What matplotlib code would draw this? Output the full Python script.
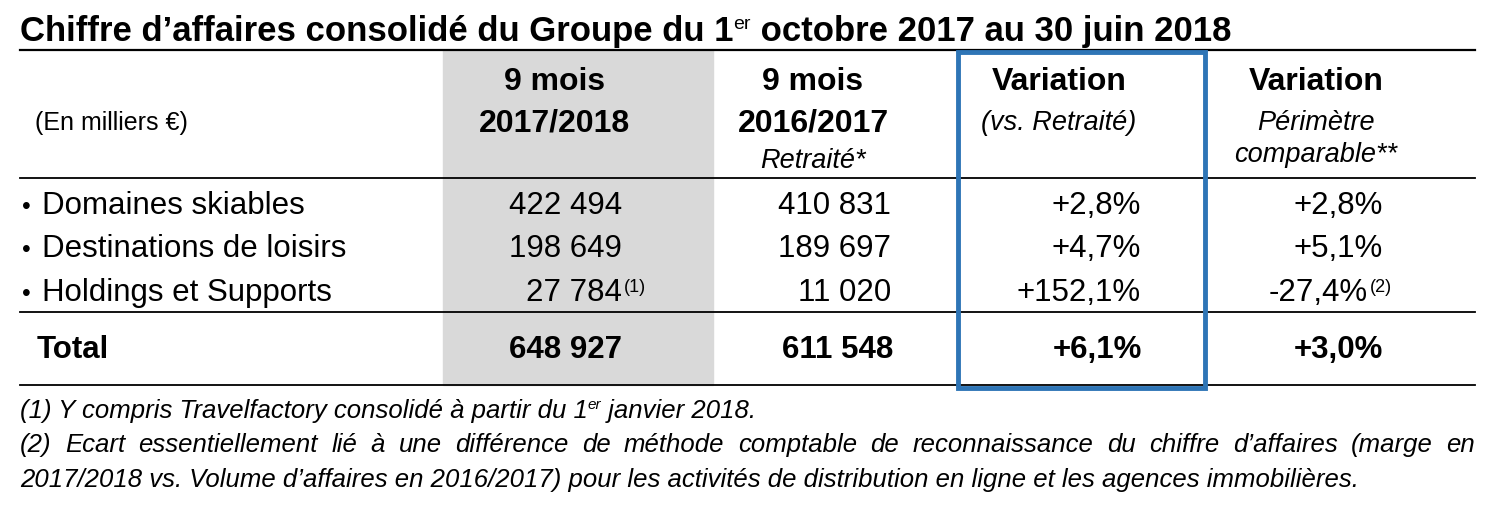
import matplotlib
matplotlib.use("Agg")
import matplotlib.pyplot as plt
from matplotlib.patches import Rectangle

categories = ["Domaines skiables", "Destinations de loisirs", "Holdings et Supports"]
ca_2018 = ["422 494", "198 649", "27 784"]
ca_2017 = ["410 831", "189 697", "11 020"]
variation = ["+2,8%", "+4,7%", "+152,1%"]
variation_comp = ["+2,8%", "+5,1%", "-27,4%"]
total = ["648 927", "611 548", "+6,1%", "+3,0%"]

FONT = "Liberation Sans"
fig = plt.figure(figsize=(14.97, 5.11), dpi=100)
ax = fig.add_axes([0, 0, 1, 1])
ax.set_xlim(0, 1497); ax.set_ylim(511, 0); ax.axis("off")
fig.canvas.draw()
r = fig.canvas.get_renderer()

def xend(t):
    bb = t.get_window_extent(r)
    return ax.transData.inverted().transform((bb.x1, bb.y1))[0]

def seq(x, y, parts):
    for s, size, dy, kw in parts:
        t = ax.text(x, y + dy, s, fontsize=size, family=FONT, va="baseline", ha="left", **kw)
        x = xend(t)

ax.add_patch(Rectangle((443, 50), 270, 335, color="#d9d9d9", zorder=0))
seq(20, 41, [("Chiffre d’affaires consolidé du Groupe du 1", 25, 0, dict(weight="bold")),
             ("er", 14, -12, dict()),
             (" octobre 2017 au 30 juin 2018", 25, 0, dict(weight="bold"))])
for y in (50, 178, 312, 385):
    ax.plot([20, 1475], [y, y], color="black", lw=1.3 if y != 50 else 1.6, zorder=2)
ax.add_patch(Rectangle((958, 52), 247, 336, fill=False, ec="#2e75b6", lw=3.5, zorder=3))

kw = dict(family=FONT, va="baseline")
B, I, N = 23, 19.5, 22.5
ax.text(35, 130, "(En milliers €)", fontsize=18, ha="left", **kw)
ax.text(555, 90, "9 mois", fontsize=B, weight="bold", ha="center", **kw)
ax.text(555, 132, "2017/2018", fontsize=B, weight="bold", ha="center", **kw)
ax.text(813, 90, "9 mois", fontsize=B, weight="bold", ha="center", **kw)
ax.text(813, 132, "2016/2017", fontsize=B, weight="bold", ha="center", **kw)
ax.text(813, 168, "Retraité*", fontsize=I, style="italic", ha="center", **kw)
ax.text(1059, 90, "Variation", fontsize=B, weight="bold", ha="center", **kw)
ax.text(1059, 130, "(vs. Retraité)", fontsize=I, style="italic", ha="center", **kw)
ax.text(1316, 90, "Variation", fontsize=B, weight="bold", ha="center", **kw)
ax.text(1316, 130, "Périmètre", fontsize=I, style="italic", ha="center", **kw)
ax.text(1316, 162, "comparable**", fontsize=I, style="italic", ha="center", **kw)

rows_y = [214, 257, 301]
for i, y in enumerate(rows_y):
    ax.text(22, y, "•", fontsize=18, ha="left", **kw)
    ax.text(42, y, categories[i], fontsize=N, ha="left", **kw)
    ax.text(622, y, ca_2018[i], fontsize=N, ha="right", **kw)
    ax.text(891, y, ca_2017[i], fontsize=N, ha="right", **kw)
    ax.text(1141, y, variation[i], fontsize=N, ha="right", **kw)
    ax.text(1383 if i < 2 else 1368, y, variation_comp[i], fontsize=N, ha="right", **kw)
ax.text(624, rows_y[2] - 9, "(1)", fontsize=13, ha="left", **kw)
ax.text(1370, rows_y[2] - 9, "(2)", fontsize=13, ha="left", **kw)

ty = 358
ax.text(37, ty, "Total", fontsize=N, weight="bold", ha="left", **kw)
ax.text(622, ty, total[0], fontsize=N, weight="bold", ha="right", **kw)
ax.text(893, ty, total[1], fontsize=N, weight="bold", ha="right", **kw)
ax.text(1142, ty, total[2], fontsize=N, weight="bold", ha="right", **kw)
ax.text(1383, ty, total[3], fontsize=N, weight="bold", ha="right", **kw)

F = 18.5
it = dict(style="italic")
seq(20, 418, [("(1) Y compris Travelfactory consolidé à partir du 1", F, 0, it),
              ("er", 11, -9, it), (" janvier 2018.", F, 0, it)])
# justified line
words = "(2) Ecart essentiellement lié à une différence de méthode comptable de reconnaissance du chiffre d’affaires (marge en".split()
ts = [ax.text(0, 452, w, fontsize=F, ha="left", style="italic", **kw) for w in words]
widths = [xend(t) - 0 for t in ts]
gap = (1475 - 20 - sum(widths)) / (len(words) - 1)
x = 20
for t, w in zip(ts, widths):
    t.set_x(x); x += w + gap
ax.text(20, 487, "2017/2018 vs. Volume d’affaires en 2016/2017) pour les activités de distribution en ligne et les agences immobilières.",
        fontsize=F, ha="left", style="italic", **kw)

fig.savefig("out.png", dpi=100)
